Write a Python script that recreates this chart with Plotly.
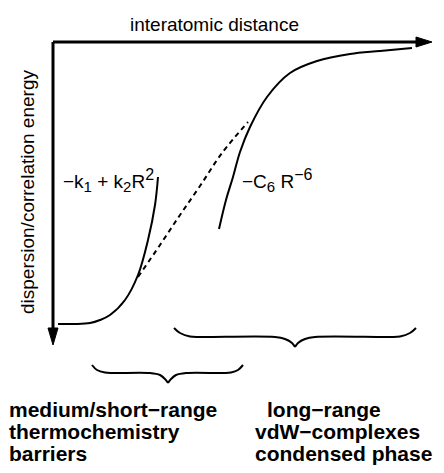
import plotly.graph_objects as go

# ---- data (schematic curves, in picture units) ----
short_x = [58, 75, 90, 100, 110, 125, 138, 148, 155, 158]
short_y = [324, 324, 323, 320, 315, 300, 275, 240, 205, 177]

dash_x = [138, 160, 180, 200, 222, 248]
dash_y = [277, 245, 215, 186, 153, 122]

long_x = [219, 226, 233, 240, 250, 267, 290, 317, 350, 380, 412]
long_y = [229, 200, 177, 152, 127, 97, 73, 61, 54, 51, 48]

axis_h_x = [53, 418]
axis_h_y = [42, 42]
axis_v_x = [53, 53]
axis_v_y = [42, 330]
head_h_x = [416, 432, 416, 416]
head_h_y = [37, 42, 47, 37]
head_v_x = [48, 53, 58, 48]
head_v_y = [328, 345, 328, 328]

brace1_left_x = [174, 180, 190, 200, 275, 285, 292, 295]
brace1_left_y = [328, 333, 336.5, 337, 337, 339, 343, 347]
brace1_right_x = [295, 298, 305, 315, 390, 400, 410, 416]
brace1_right_y = [347, 343, 339, 337, 337, 336.5, 333, 328]

brace2_left_x = [92, 97, 105, 113, 150, 160, 165, 168]
brace2_left_y = [365, 370, 372.5, 373, 373, 375, 379, 383]
brace2_right_x = [168, 171, 176, 186, 223, 231, 238, 243]
brace2_right_y = [383, 379, 375, 373, 373, 372.5, 370, 365]

left_labels = ["medium/short−range", "thermochemistry", "barriers"]
right_labels = ["long−range", "vdW−complexes", "condensed phase"]
label_rows = [409, 431, 453]

FONT = "Liberation Sans, Arial, Helvetica, sans-serif"

fig = go.Figure()

def line(x, y, width=2, dash=None, shape="spline"):
    fig.add_trace(go.Scatter(x=x, y=y, mode="lines", line=dict(color="black", width=width, dash=dash, shape=shape, smoothing=1.0), hoverinfo="skip", showlegend=False))

def tri(x, y):
    fig.add_trace(go.Scatter(x=x, y=y, mode="lines", fill="toself", fillcolor="black", line=dict(color="black", width=1), hoverinfo="skip", showlegend=False))

line(axis_h_x, axis_h_y, width=3, shape="linear")
line(axis_v_x, axis_v_y, width=3, shape="linear")
tri(head_h_x, head_h_y)
tri(head_v_x, head_v_y)

line(short_x, short_y, width=2)
line(dash_x, dash_y, width=2, dash="5px,4px")
line(long_x, long_y, width=2)

for bx, by in [(brace1_left_x, brace1_left_y), (brace1_right_x, brace1_right_y),
               (brace2_left_x, brace2_left_y), (brace2_right_x, brace2_right_y)]:
    line(bx, by, width=2)

ann = []
def text(x, y, s, size=19, xanchor="left", angle=0):
    ann.append(dict(x=x, y=y, xref="x", yref="y", text=s, showarrow=False, xanchor=xanchor, yanchor="middle",
                    textangle=angle, font=dict(family=FONT, size=size, color="black")))

text(214, 24, "interatomic distance", xanchor="center")
text(27, 192, "dispersion/correlation energy", xanchor="center", angle=-90)
text(61, 180, "−k<sub><span style='font-size:15px'>1</span></sub> + k<sub><span style='font-size:15px'>2</span></sub>R<sup><span style='font-size:16px'>2</span></sup>")
text(240, 180, "−C<sub><span style='font-size:15px'>6</span></sub> R<sup><span style='font-size:16px'>−6</span></sup>")

for s, yy in zip(left_labels, label_rows):
    text(7, yy, "<b>" + s + "</b>", size=21)
for i, (s, yy) in enumerate(zip(right_labels, label_rows)):
    text(265 if i == 0 else 253, yy, "<b>" + s + "</b>", size=21)

fig.update_layout(
    width=444, height=473, margin=dict(l=0, r=0, t=0, b=0),
    paper_bgcolor="white", plot_bgcolor="white",
    xaxis=dict(range=[0, 444], visible=False, fixedrange=True),
    yaxis=dict(range=[473, 0], visible=False, fixedrange=True),
    annotations=ann, showlegend=False,
)

fig.write_html("out.html")
